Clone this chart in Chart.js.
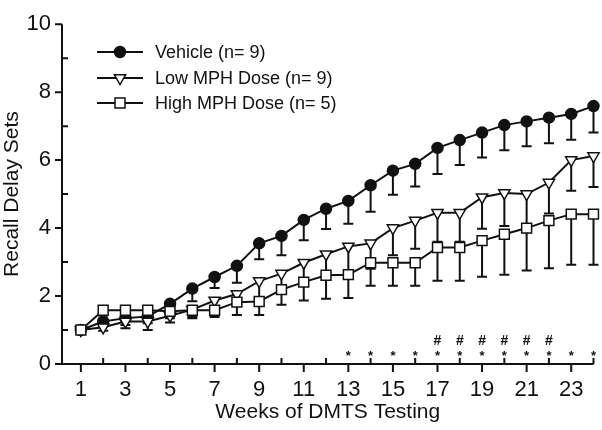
<!DOCTYPE html>
<html>
<head>
<meta charset="utf-8">
<script src="https://cdn.jsdelivr.net/npm/chart.js@4.4.0/dist/chart.umd.min.js"></script>
<style>
  html, body { margin: 0; padding: 0; background: #fff; }
  #wrap { width: 602px; height: 430px; }
</style>
</head>
<body>
<div id="wrap"><canvas id="dmtsChart" width="602" height="430"></canvas></div>
<script>
// weeks of testing
const weeks = [1, 2, 3, 4, 5, 6, 7, 8, 9, 10, 11, 12, 13, 14, 15, 16, 17, 18, 19, 20, 21, 22, 23, 24];
const xTickLabels = [1, 3, 5, 7, 9, 11, 13, 15, 17, 19, 21, 23];
const yTickLabels = [0, 2, 4, 6, 8, 10];

const vehicle    = [1.0, 1.25, 1.35, 1.4, 1.77, 2.22, 2.56, 2.89, 3.55, 3.77, 4.24, 4.57, 4.8, 5.26, 5.69, 5.89, 6.36, 6.59, 6.81, 7.03, 7.14, 7.25, 7.36, 7.59];
const vehicleErr = [0, 0.15, 0.2, 0.2, 0.35, 0.37, 0.32, 0.5, 0.47, 0.57, 0.6, 0.6, 0.67, 0.78, 0.71, 0.67, 0.77, 0.73, 0.73, 0.74, 0.73, 0.75, 0.76, 0.78];
const lowDose    = [1.0, 1.08, 1.25, 1.25, 1.42, 1.6, 1.87, 2.06, 2.44, 2.66, 2.98, 3.23, 3.46, 3.55, 4.0, 4.22, 4.45, 4.45, 4.91, 5.03, 5.0, 5.34, 6.0, 6.12];
const lowDoseErr = [0, 0.1, 0.2, 0.25, 0.2, 0.25, 0.3, 0.35, 0.5, 0.6, 0.65, 0.7, 0.75, 0.75, 0.8, 0.83, 0.85, 0.85, 0.93, 0.97, 0.95, 0.91, 0.9, 0.91];
const highDose    = [1.0, 1.58, 1.58, 1.58, 1.55, 1.58, 1.58, 1.82, 1.84, 2.19, 2.41, 2.61, 2.63, 2.98, 2.98, 2.98, 3.43, 3.43, 3.63, 3.82, 4.0, 4.22, 4.41, 4.41];
const highDoseErr = [0, 0.15, 0.15, 0.15, 0.2, 0.2, 0.2, 0.38, 0.4, 0.45, 0.54, 0.69, 0.69, 0.68, 0.68, 0.68, 0.98, 0.98, 1.06, 1.19, 1.25, 1.4, 1.49, 1.49];

// significance markers
const starWeeks = [13, 14, 15, 16, 17, 18, 19, 20, 21, 22, 23, 24];
const hashWeeks = [17, 18, 19, 20, 21, 22];

const seriesLabels = ["Vehicle (n= 9)", "Low MPH Dose (n= 9)", "High MPH Dose (n= 5)"];

const FONT = "'Liberation Sans', Arial, Helvetica, sans-serif";
const INK = "#111";

function toPoints(vals) {
    return weeks.map((w, i) => ({ x: w, y: vals[i] }));
}

function drawMarker(ctx, style, x, y) {
    ctx.save();
    ctx.lineWidth = 1.5;
    ctx.strokeStyle = INK;
    ctx.beginPath();
    if (style === "circle") {
        ctx.arc(x, y, 5.5, 0, Math.PI * 2);
        ctx.fillStyle = INK;
    } else if (style === "triangle") {
        const r = 6.5;
        ctx.moveTo(x - r * 0.866, y - r * 0.5);
        ctx.lineTo(x + r * 0.866, y - r * 0.5);
        ctx.lineTo(x, y + r);
        ctx.closePath();
        ctx.fillStyle = "#fff";
    } else {
        ctx.rect(x - 5, y - 5, 10, 10);
        ctx.fillStyle = "#fff";
    }
    ctx.fill();
    ctx.stroke();
    ctx.restore();
}

const errorBars = {
    id: "errorBars",
    beforeDatasetsDraw(chart) {
        const { ctx, scales: { x, y } } = chart;
        ctx.save();
        ctx.strokeStyle = INK;
        ctx.lineWidth = 2;
        chart.data.datasets.forEach((ds) => {
            ds.data.forEach((pt, i) => {
                const e = ds.errLow[i];
                if (!e) return;
                const px = x.getPixelForValue(pt.x);
                const y0 = y.getPixelForValue(pt.y);
                const y1 = y.getPixelForValue(pt.y - e);
                ctx.beginPath();
                ctx.moveTo(px, y0);
                ctx.lineTo(px, y1);
                ctx.moveTo(px - 5, y1);
                ctx.lineTo(px + 5, y1);
                ctx.stroke();
            });
        });
        ctx.restore();
    },
};

const axesAndMarks = {
    id: "axesAndMarks",
    afterDraw(chart) {
        const { ctx, chartArea: a, scales: { x, y } } = chart;
        ctx.save();
        ctx.strokeStyle = INK;
        ctx.lineWidth = 2;
        ctx.beginPath();
        ctx.moveTo(a.left, a.top);
        ctx.lineTo(a.left, a.bottom);
        ctx.moveTo(a.left - 5, a.bottom);
        ctx.lineTo(a.right, a.bottom);
        // y ticks: even outward, odd inward
        for (let v = 0; v <= 10; v++) {
            const py = y.getPixelForValue(v);
            if (v % 2 === 0) {
                ctx.moveTo(a.left - 7, py);
                ctx.lineTo(a.left, py);
            } else {
                ctx.moveTo(a.left, py);
                ctx.lineTo(a.left + 6, py);
            }
        }
        // x ticks: odd weeks outward, even weeks inward
        weeks.forEach((w) => {
            const px = x.getPixelForValue(w);
            if (w % 2 === 1) {
                ctx.moveTo(px, a.bottom);
                ctx.lineTo(px, a.bottom + 8);
            } else {
                ctx.moveTo(px, a.bottom);
                ctx.lineTo(px, a.bottom - 6);
            }
        });
        ctx.stroke();

        // significance symbols
        ctx.fillStyle = INK;
        ctx.textAlign = "center";
        ctx.textBaseline = "middle";
        ctx.font = "bold 13px " + FONT;
        starWeeks.forEach((w) => {
            ctx.fillText("*", x.getPixelForValue(w), y.getPixelForValue(0.22));
        });
        ctx.font = "bold 14px " + FONT;
        hashWeeks.forEach((w) => {
            ctx.fillText("#", x.getPixelForValue(w), y.getPixelForValue(0.66));
        });

        // legend
        const styles = ["circle", "triangle", "rect"];
        const rows = [52, 78, 103];
        ctx.font = "18px " + FONT;
        ctx.textAlign = "left";
        rows.forEach((ry, i) => {
            ctx.lineWidth = 2;
            ctx.beginPath();
            ctx.moveTo(97, ry);
            ctx.lineTo(143, ry);
            ctx.stroke();
            drawMarker(ctx, styles[i], 120, ry);
            ctx.fillStyle = INK;
            ctx.fillText(seriesLabels[i], 155, ry + 1);
        });
        ctx.restore();
    },
};

const lineStyle = {
    borderColor: INK,
    borderWidth: 2,
    pointBorderColor: INK,
    pointBorderWidth: 1.5,
    tension: 0,
    clip: false,
};

new Chart(document.getElementById("dmtsChart").getContext("2d"), {
    type: "line",
    data: {
        datasets: [
            { ...lineStyle, label: seriesLabels[2], data: toPoints(highDose), errLow: highDoseErr,
              pointStyle: "rect", pointRadius: 7, pointBackgroundColor: "#fff" },
            { ...lineStyle, label: seriesLabels[1], data: toPoints(lowDose), errLow: lowDoseErr,
              pointStyle: "triangle", pointRotation: 180, pointRadius: 6.5, pointBackgroundColor: "#fff" },
            { ...lineStyle, label: seriesLabels[0], data: toPoints(vehicle), errLow: vehicleErr,
              pointStyle: "circle", pointRadius: 5.5, pointBackgroundColor: INK },
        ],
    },
    options: {
        responsive: false,
        animation: false,
        layout: { padding: { top: 13, right: 5, left: 0, bottom: 0 } },
        plugins: { legend: { display: false }, tooltip: { enabled: false } },
        scales: {
            x: {
                type: "linear",
                min: 0.153,
                max: 24,
                grid: { display: false, drawTicks: false },
                border: { display: false },
                afterFit: (s) => { s.height = 66; },
                afterBuildTicks: (s) => { s.ticks = xTickLabels.map((v) => ({ value: v })); },
                ticks: { color: INK, font: { family: FONT, size: 22 }, padding: 13, maxRotation: 0, autoSkip: false },
                title: { display: true, text: "Weeks of DMTS Testing", color: INK,
                         font: { family: FONT, size: 21 }, padding: { top: 0, bottom: 5 } },
            },
            y: {
                min: 0,
                max: 10,
                grid: { display: false, drawTicks: false },
                border: { display: false },
                afterFit: (s) => { s.width = 62; },
                afterBuildTicks: (s) => { s.ticks = yTickLabels.map((v) => ({ value: v })); },
                ticks: { color: INK, font: { family: FONT, size: 22 }, padding: 11 },
                title: { display: true, text: "Recall Delay Sets", color: INK,
                         font: { family: FONT, size: 21 }, padding: { top: 0, bottom: 0 } },
            },
        },
    },
    plugins: [errorBars, axesAndMarks],
});
</script>
</body>
</html>
